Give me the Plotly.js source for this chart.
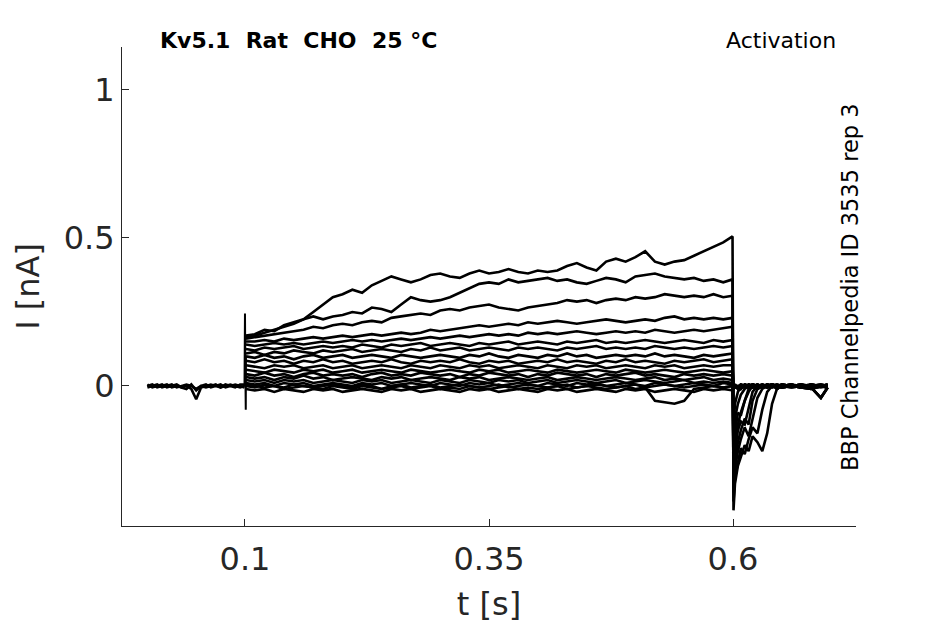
<!DOCTYPE html>
<html>
<head>
<meta charset="utf-8">
<script src="https://cdn.plot.ly/plotly-3.0.1.min.js"></script>
<style>
  html, body { margin: 0; padding: 0; background: #fff; }
  #chart { width: 945px; height: 624px; }
</style>
</head>
<body>
<div id="chart"></div>
<script>
// time grids (s)
const tBase = [0, 0.005, 0.01, 0.015, 0.02, 0.025, 0.03, 0.035, 0.04, 0.045, 0.05,
  0.055, 0.06, 0.065, 0.07, 0.075, 0.08, 0.085, 0.09, 0.095, 0.0995];
const tPulse = [0.101, 0.11, 0.12, 0.13, 0.14, 0.15, 0.16, 0.17, 0.18, 0.19,
  0.2, 0.21, 0.22, 0.23, 0.24, 0.25, 0.26, 0.27, 0.28, 0.29,
  0.3, 0.31, 0.32, 0.33, 0.34, 0.35, 0.36, 0.37, 0.38, 0.39,
  0.4, 0.41, 0.42, 0.43, 0.44, 0.45, 0.46, 0.47, 0.48, 0.49,
  0.5, 0.51, 0.52, 0.53, 0.54, 0.55, 0.56, 0.57, 0.58, 0.59, 0.5995];
const tTail = [0.6005, 0.602, 0.605, 0.608, 0.612, 0.616, 0.62, 0.625, 0.63, 0.635,
  0.64, 0.645, 0.65, 0.66, 0.67, 0.68, 0.69, 0.697];
const spikeT = [0.0995, 0.1, 0.1004, 0.1008, 0.101];

// currents (nA)
const baseA = [0.0, 0.005, -0.005, 0.0, 0.005, -0.005, 0.0, -0.005, 0.0, -0.01, -0.045,
  -0.005, 0.0, 0.005, 0.0, -0.005, 0.0, 0.005, 0.0, -0.005, 0.0];
const baseB = [-0.005, 0.0, 0.005, -0.005, 0.0, 0.005, -0.005, 0.0, 0.005, 0.0, -0.01,
  0.0, 0.005, -0.005, 0.0, 0.005, -0.005, 0.0, 0.005, 0.0, -0.005];
const baseC = [0.005, -0.005, 0.0, 0.005, -0.005, 0.0, 0.005, -0.005, -0.01, 0.005, -0.015,
  0.0, -0.005, 0.0, 0.005, -0.005, 0.005, 0.0, -0.005, 0.005, 0.005];
const spikeI = [0.0, 0.245, 0.05, -0.08, 0.1];

const pulse1 = [0.17, 0.175, 0.19, 0.185, 0.205, 0.215, 0.225, 0.25, 0.275, 0.30,
  0.31, 0.325, 0.315, 0.34, 0.355, 0.37, 0.36, 0.35, 0.36, 0.375,
  0.38, 0.37, 0.365, 0.38, 0.39, 0.38, 0.385, 0.395, 0.385, 0.38,
  0.39, 0.385, 0.39, 0.405, 0.415, 0.4, 0.39, 0.42, 0.43, 0.42,
  0.435, 0.455, 0.42, 0.41, 0.42, 0.425, 0.44, 0.455, 0.47, 0.485, 0.505];
const pulse2 = [0.165, 0.17, 0.18, 0.19, 0.2, 0.21, 0.225, 0.235, 0.225, 0.235,
  0.24, 0.25, 0.245, 0.265, 0.26, 0.25, 0.275, 0.3, 0.29, 0.285,
  0.29, 0.3, 0.315, 0.33, 0.345, 0.35, 0.345, 0.36, 0.35, 0.355,
  0.36, 0.365, 0.355, 0.36, 0.35, 0.345, 0.355, 0.365, 0.36, 0.35,
  0.37, 0.375, 0.38, 0.37, 0.365, 0.36, 0.365, 0.355, 0.36, 0.35, 0.36];
const pulse3 = [0.16, 0.165, 0.17, 0.175, 0.18, 0.185, 0.19, 0.2, 0.195, 0.205,
  0.21, 0.205, 0.215, 0.22, 0.215, 0.23, 0.235, 0.24, 0.245, 0.24,
  0.255, 0.26, 0.255, 0.265, 0.27, 0.275, 0.265, 0.26, 0.255, 0.265,
  0.27, 0.275, 0.28, 0.29, 0.285, 0.29, 0.28, 0.29, 0.295, 0.29,
  0.3, 0.295, 0.3, 0.31, 0.305, 0.3, 0.305, 0.3, 0.31, 0.3, 0.305];
const pulse4 = [0.15, 0.15, 0.155, 0.15, 0.16, 0.155, 0.16, 0.165, 0.16, 0.165,
  0.17, 0.165, 0.17, 0.175, 0.17, 0.175, 0.18, 0.175, 0.18, 0.19,
  0.185, 0.19, 0.195, 0.2, 0.205, 0.2, 0.205, 0.21, 0.205, 0.215,
  0.21, 0.215, 0.22, 0.215, 0.21, 0.215, 0.22, 0.225, 0.22, 0.215,
  0.22, 0.225, 0.22, 0.23, 0.235, 0.225, 0.23, 0.225, 0.23, 0.225, 0.23];
const pulse5 = [0.14, 0.135, 0.14, 0.145, 0.14, 0.145, 0.14, 0.145, 0.15, 0.145,
  0.15, 0.155, 0.15, 0.155, 0.15, 0.155, 0.16, 0.155, 0.16, 0.165,
  0.16, 0.165, 0.17, 0.165, 0.17, 0.175, 0.17, 0.175, 0.17, 0.18,
  0.175, 0.18, 0.175, 0.18, 0.185, 0.18, 0.175, 0.18, 0.185, 0.18,
  0.185, 0.18, 0.19, 0.185, 0.18, 0.185, 0.19, 0.185, 0.19, 0.195, 0.2];
const pulse6 = [0.125, 0.12, 0.13, 0.125, 0.13, 0.135, 0.125, 0.13, 0.135, 0.13,
  0.135, 0.13, 0.14, 0.135, 0.13, 0.14, 0.135, 0.14, 0.145, 0.135,
  0.14, 0.145, 0.14, 0.135, 0.145, 0.14, 0.145, 0.15, 0.14, 0.145,
  0.15, 0.145, 0.14, 0.15, 0.145, 0.15, 0.155, 0.145, 0.15, 0.145,
  0.15, 0.155, 0.15, 0.145, 0.15, 0.155, 0.15, 0.145, 0.155, 0.15, 0.155];
const pulse7 = [0.11, 0.115, 0.105, 0.115, 0.11, 0.12, 0.115, 0.11, 0.12, 0.115,
  0.12, 0.125, 0.115, 0.12, 0.125, 0.12, 0.115, 0.125, 0.12, 0.13,
  0.12, 0.125, 0.13, 0.12, 0.125, 0.13, 0.125, 0.12, 0.13, 0.125,
  0.13, 0.125, 0.12, 0.13, 0.125, 0.13, 0.135, 0.125, 0.13, 0.125,
  0.13, 0.125, 0.135, 0.13, 0.125, 0.13, 0.125, 0.13, 0.135, 0.13, 0.135];
const pulse8 = [0.1, 0.095, 0.105, 0.095, 0.1, 0.09, 0.1, 0.105, 0.095, 0.1,
  0.105, 0.095, 0.1, 0.105, 0.1, 0.095, 0.105, 0.1, 0.095, 0.1,
  0.105, 0.1, 0.095, 0.105, 0.1, 0.11, 0.1, 0.095, 0.105, 0.1,
  0.095, 0.105, 0.1, 0.11, 0.1, 0.105, 0.095, 0.1, 0.105, 0.1,
  0.105, 0.1, 0.11, 0.1, 0.105, 0.1, 0.095, 0.105, 0.1, 0.105, 0.11];
const pulse9 = [0.085, 0.08, 0.09, 0.08, 0.085, 0.075, 0.085, 0.08, 0.09, 0.08,
  0.085, 0.075, 0.08, 0.085, 0.08, 0.09, 0.08, 0.075, 0.085, 0.08,
  0.085, 0.08, 0.09, 0.08, 0.075, 0.085, 0.08, 0.085, 0.075, 0.08,
  0.085, 0.08, 0.09, 0.08, 0.085, 0.08, 0.075, 0.085, 0.08, 0.09,
  0.08, 0.085, 0.08, 0.075, 0.085, 0.08, 0.085, 0.09, 0.08, 0.085, 0.09];
const pulse10 = [0.07, 0.065, 0.06, 0.07, 0.065, 0.07, 0.06, 0.065, 0.07, 0.06,
  0.065, 0.07, 0.06, 0.065, 0.07, 0.065, 0.06, 0.07, 0.065, 0.06,
  0.07, 0.065, 0.06, 0.07, 0.065, 0.07, 0.06, 0.065, 0.07, 0.065,
  0.06, 0.07, 0.065, 0.06, 0.07, 0.065, 0.07, 0.06, 0.065, 0.07,
  0.065, 0.06, 0.07, 0.065, 0.07, 0.06, 0.065, 0.07, 0.065, 0.07, 0.07];
const pulse11 = [0.055, 0.05, 0.045, 0.055, 0.05, 0.045, 0.055, 0.05, 0.055, 0.045,
  0.05, 0.055, 0.045, 0.05, 0.055, 0.05, 0.045, 0.055, 0.05, 0.045,
  0.05, 0.055, 0.05, 0.045, 0.055, 0.05, 0.055, 0.045, 0.05, 0.055,
  0.05, 0.045, 0.055, 0.05, 0.045, 0.05, 0.055, 0.05, 0.045, 0.055,
  0.05, 0.045, 0.05, 0.055, 0.05, 0.045, 0.05, 0.055, 0.05, 0.045, 0.05];
const pulse12 = [0.04, 0.035, 0.045, 0.035, 0.04, 0.03, 0.04, 0.045, 0.035, 0.04,
  0.035, 0.04, 0.03, 0.04, 0.045, 0.035, 0.04, 0.035, 0.045, 0.04,
  0.035, 0.04, 0.03, 0.04, 0.035, 0.045, 0.04, 0.035, 0.04, 0.03,
  0.04, 0.035, 0.045, 0.04, 0.035, 0.04, 0.03, 0.04, 0.035, 0.04,
  0.045, 0.035, 0.04, 0.035, 0.03, 0.04, 0.035, 0.04, 0.035, 0.04, 0.035];
const pulse13 = [0.03, 0.025, 0.03, 0.02, 0.03, 0.025, 0.035, 0.025, 0.03, 0.02,
  0.025, 0.03, 0.025, 0.02, 0.03, 0.025, 0.03, 0.02, 0.025, 0.03,
  0.025, 0.02, 0.03, 0.025, 0.03, 0.02, 0.025, 0.03, 0.025, 0.02,
  0.025, 0.03, 0.02, 0.025, 0.03, 0.025, 0.02, 0.025, 0.03, 0.025,
  0.02, 0.025, 0.03, 0.02, 0.025, 0.02, 0.025, 0.03, 0.02, 0.025, 0.02];
const pulse14 = [0.02, 0.015, 0.02, 0.01, 0.02, 0.015, 0.02, 0.01, 0.015, 0.02,
  0.015, 0.01, 0.02, 0.015, 0.02, 0.01, 0.015, 0.02, 0.015, 0.01,
  0.02, 0.015, 0.01, 0.02, 0.015, 0.01, 0.02, 0.015, 0.02, 0.01,
  0.015, 0.02, 0.01, 0.015, 0.02, 0.015, 0.01, 0.015, 0.02, 0.01,
  0.015, 0.02, 0.015, 0.01, 0.015, 0.02, 0.01, 0.015, 0.01, 0.015, 0.01];
const pulse15 = [0.01, 0.005, 0.01, 0.0, 0.01, 0.005, 0.01, 0.0, 0.005, 0.01,
  0.005, 0.0, 0.01, 0.005, 0.01, 0.0, 0.005, 0.01, 0.005, 0.0,
  0.01, 0.005, 0.0, 0.01, 0.005, 0.01, 0.0, 0.005, 0.01, 0.005,
  0.0, 0.01, 0.005, 0.0, 0.01, 0.005, 0.01, 0.0, 0.005, 0.01,
  0.005, 0.0, 0.01, 0.005, 0.0, 0.005, 0.01, 0.005, 0.0, 0.01, 0.005];
const pulse16 = [0.0, -0.005, 0.005, 0.0, -0.005, 0.005, 0.0, -0.005, 0.0, 0.005,
  0.0, -0.005, 0.005, 0.0, -0.01, 0.0, 0.005, -0.005, 0.0, 0.005,
  -0.005, 0.0, 0.005, 0.0, -0.005, 0.0, 0.005, -0.005, 0.0, 0.005,
  0.0, -0.005, 0.0, 0.005, -0.005, 0.0, 0.005, 0.0, -0.005, 0.0,
  0.005, -0.005, 0.0, 0.005, 0.0, -0.005, 0.0, 0.005, 0.0, -0.005, 0.0];
const pulse17 = [0.005, 0.0, -0.005, 0.0, -0.01, -0.005, 0.0, -0.005, -0.01, 0.0,
  -0.005, -0.01, 0.0, -0.005, -0.01, -0.005, 0.0, -0.01, -0.005, 0.0,
  -0.01, -0.005, -0.01, 0.0, -0.005, -0.01, -0.005, 0.0, -0.01, -0.005,
  -0.01, -0.005, 0.0, -0.01, -0.005, 0.0, -0.005, -0.01, -0.005, 0.0,
  -0.01, -0.005, -0.05, -0.055, -0.06, -0.05, -0.01, -0.005, 0.0, -0.005, 0.0];
const pulse18 = [-0.01, -0.015, -0.01, -0.02, -0.01, -0.015, -0.02, -0.01, -0.015, -0.01,
  -0.02, -0.015, -0.01, -0.015, -0.02, -0.01, -0.015, -0.01, -0.02, -0.015,
  -0.01, -0.015, -0.02, -0.01, -0.015, -0.01, -0.02, -0.015, -0.01, -0.015,
  -0.02, -0.01, -0.015, -0.01, -0.02, -0.015, -0.01, -0.015, -0.02, -0.01,
  -0.015, -0.01, -0.02, -0.015, -0.01, -0.015, -0.02, -0.01, -0.015, -0.01, -0.015];

const tail1 = [-0.42, -0.33, -0.27, -0.24, -0.2, -0.22, -0.17, -0.19, -0.22, -0.16, -0.06, -0.01, 0.0, 0.005, -0.005, 0.0, 0.005, 0.0];
const tail2 = [-0.39, -0.31, -0.26, -0.21, -0.23, -0.18, -0.14, -0.16, -0.08, -0.02, 0.0, 0.005, 0.0, -0.005, 0.0, 0.005, 0.0, 0.0];
const tail3 = [-0.36, -0.28, -0.22, -0.18, -0.14, -0.17, -0.11, -0.04, -0.01, 0.0, 0.005, 0.0, -0.005, 0.0, 0.005, 0.0, -0.005, 0.0];
const tail4 = [-0.33, -0.25, -0.19, -0.15, -0.11, -0.13, -0.05, -0.01, 0.005, 0.0, -0.005, 0.0, 0.005, 0.0, 0.0, -0.005, 0.0, 0.005];
const tail5 = [-0.3, -0.22, -0.15, -0.12, -0.13, -0.07, -0.02, 0.0, 0.005, -0.005, 0.0, 0.005, 0.0, -0.005, 0.0, 0.005, 0.0, 0.0];
const tail6 = [-0.27, -0.2, -0.13, -0.09, -0.05, -0.02, 0.0, 0.005, 0.0, -0.005, 0.0, 0.005, 0.0, 0.0, -0.005, 0.0, 0.005, 0.0];
const tail7 = [-0.24, -0.16, -0.09, -0.1, -0.05, -0.01, 0.005, 0.0, -0.005, 0.0, 0.005, 0.0, -0.005, 0.0, 0.005, 0.0, 0.0, -0.005];
const tail8 = [-0.2, -0.11, -0.06, -0.03, -0.01, 0.0, 0.005, -0.005, 0.0, 0.005, 0.0, -0.005, 0.0, 0.005, 0.0, -0.005, 0.0, 0.0];
const tail9 = [-0.14, -0.06, -0.02, -0.005, 0.005, 0.0, -0.005, 0.0, 0.005, 0.0, -0.005, 0.0, 0.005, 0.0, -0.005, 0.0, 0.005, 0.0];
const tailFlatA = [-0.01, 0.0, -0.005, 0.005, 0.0, -0.005, 0.005, 0.0, -0.005, 0.005, 0.0, -0.005, 0.005, 0.0, -0.005, 0.005, 0.0, -0.005];
const tailFlatB = [0.005, -0.005, 0.0, -0.01, 0.005, 0.0, -0.005, 0.005, -0.005, 0.0, 0.005, -0.01, 0.0, 0.005, -0.005, -0.01, 0.0, 0.005];
const tailFlatC = [-0.005, 0.005, -0.01, 0.0, -0.005, 0.005, 0.0, -0.01, 0.0, -0.005, 0.005, 0.0, -0.005, 0.0, 0.005, -0.005, -0.04, -0.005];

const pulses = [pulse1, pulse2, pulse3, pulse4, pulse5, pulse6, pulse7, pulse8, pulse9,
  pulse10, pulse11, pulse12, pulse13, pulse14, pulse15, pulse16, pulse17, pulse18];
const tails = [tail1, tail2, tail3, tail4, tail5, tail6, tail7, tail8, tail9,
  tailFlatA, tailFlatB, tailFlatC, tailFlatA, tailFlatB, tailFlatC, tailFlatA, tailFlatB, tailFlatC];

const ink = '#262626';
const lineStyle = { color: '#000000', width: 2.6 };

const traces = [];
for (const base of [baseA, baseB, baseC]) {
  traces.push({ x: tBase, y: base, mode: 'lines', type: 'scatter', line: lineStyle, hoverinfo: 'skip' });
}
traces.push({ x: spikeT, y: spikeI, mode: 'lines', type: 'scatter', line: { color: '#000000', width: 2 }, hoverinfo: 'skip' });
pulses.forEach((p, i) => {
  traces.push({
    x: tPulse.concat(tTail),
    y: p.concat(tails[i]),
    mode: 'lines',
    type: 'scatter',
    line: lineStyle,
    hoverinfo: 'skip'
  });
});

const axisBase = {
  showline: true,
  linecolor: ink,
  linewidth: 1,
  showgrid: false,
  zeroline: false,
  ticks: 'inside',
  ticklen: 7,
  tickwidth: 1,
  tickcolor: ink,
  tickfont: { family: 'DejaVu Sans', size: 32, color: ink },
  mirror: false
};

const layout = {
  width: 945,
  height: 624,
  margin: { l: 122, r: 89, t: 47, b: 98 },
  paper_bgcolor: '#ffffff',
  plot_bgcolor: '#ffffff',
  showlegend: false,
  font: { family: 'DejaVu Sans', color: ink },
  xaxis: {
    ...axisBase,
    range: [-0.026, 0.726],
    tickvals: [0.1, 0.35, 0.6],
    ticktext: ['0.1', '0.35', '0.6'],
    ticklabelstandoff: 5,
    title: { text: 't [s]', font: { family: 'DejaVu Sans', size: 32, color: ink }, standoff: 15 }
  },
  yaxis: {
    ...axisBase,
    range: [-0.473, 1.145],
    tickvals: [0, 0.5, 1],
    ticktext: ['0', '0.5', '1'],
    title: { text: 'I [nA]', font: { family: 'DejaVu Sans', size: 32, color: ink }, standoff: 14 }
  },
  annotations: [
    {
      text: '<b>Kv5.1  Rat  CHO  25 °C</b>',
      xref: 'paper', yref: 'paper', x: 0.049, y: 1.0146,
      xanchor: 'left', yanchor: 'middle', showarrow: false,
      font: { family: 'DejaVu Sans', size: 22, color: '#000000' }
    },
    {
      text: 'Activation',
      xref: 'paper', yref: 'paper', x: 0.9755, y: 1.0146,
      xanchor: 'right', yanchor: 'middle', showarrow: false,
      font: { family: 'DejaVu Sans', size: 22, color: '#000000' }
    },
    {
      text: 'BBP Channelpedia ID 3535 rep 3',
      xref: 'paper', yref: 'paper', x: 0.9918, y: 0.499,
      xanchor: 'center', yanchor: 'middle', textangle: -90, showarrow: false,
      font: { family: 'DejaVu Sans', size: 22.5, color: '#000000' }
    }
  ]
};

Plotly.newPlot('chart', traces, layout, { displayModeBar: false, staticPlot: true });
</script>
</body>
</html>
